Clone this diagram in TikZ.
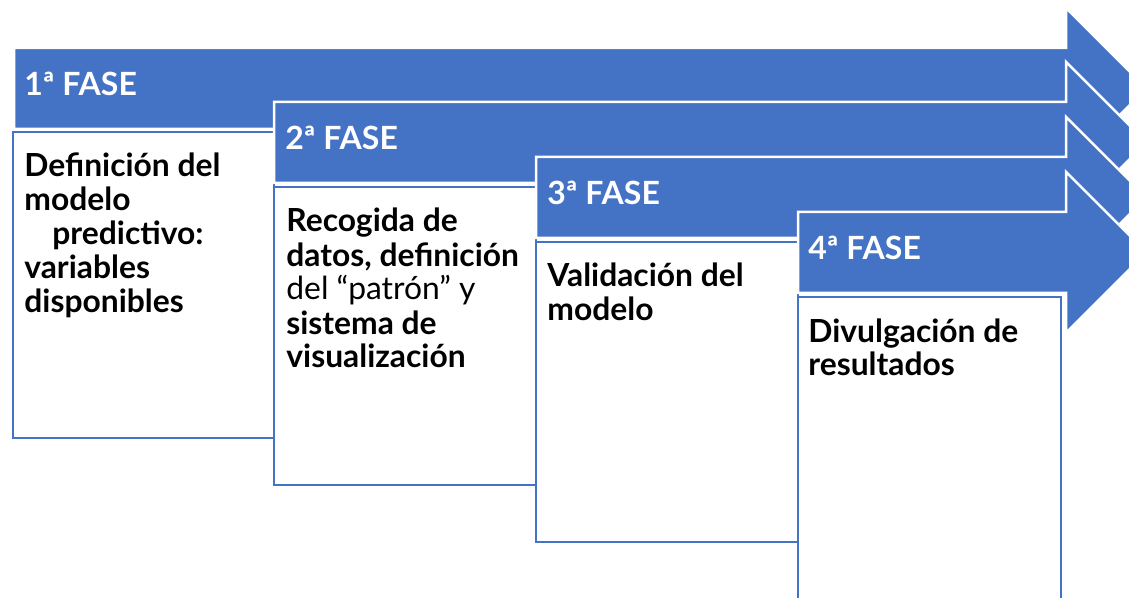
\documentclass[tikz,border=0pt]{standalone}
\usepackage{fontspec}
\setmainfont{Lato}
\usepackage{tikz}
\definecolor{fasecolor}{RGB}{68,114,196}
\tikzstyle{phasearrow} = [fill=fasecolor, draw=white, line width=1.25pt]
\tikzstyle{phasebox} = [fill=white, draw=fasecolor, line width=1pt]
\tikzstyle{header} = [anchor=base west, inner sep=0pt, text=white, font=\fontsize{16}{17}\selectfont\bfseries]
\tikzstyle{body} = [anchor=base west, inner sep=0pt, align=left, font=\fontsize{15.9}{17}\selectfont\bfseries]

\begin{document}
\begin{tikzpicture}[x=0.5pt, y=-0.5pt]

\clip (0,0) rectangle (1129,598);

\draw [phasearrow] (14,48) -- (1066,48) -- (1066,8) -- (1146.5,88.5) -- (1066,169) -- (1066,129) -- (14,129) -- cycle;
\draw [phasebox] (13,132) rectangle (274,438);
\draw [phasearrow] (274,102) -- (1066,102) -- (1066,62) -- (1146.5,142.5) -- (1066,223) -- (1066,183) -- (274,183) -- cycle;
\draw [phasebox] (274,187) rectangle (536,485);
\draw [phasearrow] (536,157) -- (1066,157) -- (1066,117) -- (1146.5,197.5) -- (1066,278) -- (1066,238) -- (536,238) -- cycle;
\draw [phasebox] (536,242) rectangle (798,542);
\draw [phasearrow] (798,212) -- (1066,212) -- (1066,172) -- (1146.5,252.5) -- (1066,333) -- (1066,293) -- (798,293) -- cycle;
\draw [phasebox] (798,297) rectangle (1061,640);

\node (1) [header] at (24,96) {1ª FASE};
\node (2) [header] at (285,150) {2ª FASE};
\node (3) [header] at (547,205) {3ª FASE};
\node (4) [header] at (808,260) {4ª FASE};

% base of the node = baseline of its last line
\node (1t) [body] at (24,313) {Definición del\\modelo\\\hspace*{14pt}predictivo:\\variables\\disponibles};
\node (2t) [body] at (286,368) {Recogida de\\datos, definición\\\mdseries del “patrón” y\\sistema de\\visualización};
\node (3t) [body] at (547,321) {Validación del\\modelo};
\node (4t) [body] at (808,376) {Divulgación de\\resultados};

\end{tikzpicture}
\end{document}
